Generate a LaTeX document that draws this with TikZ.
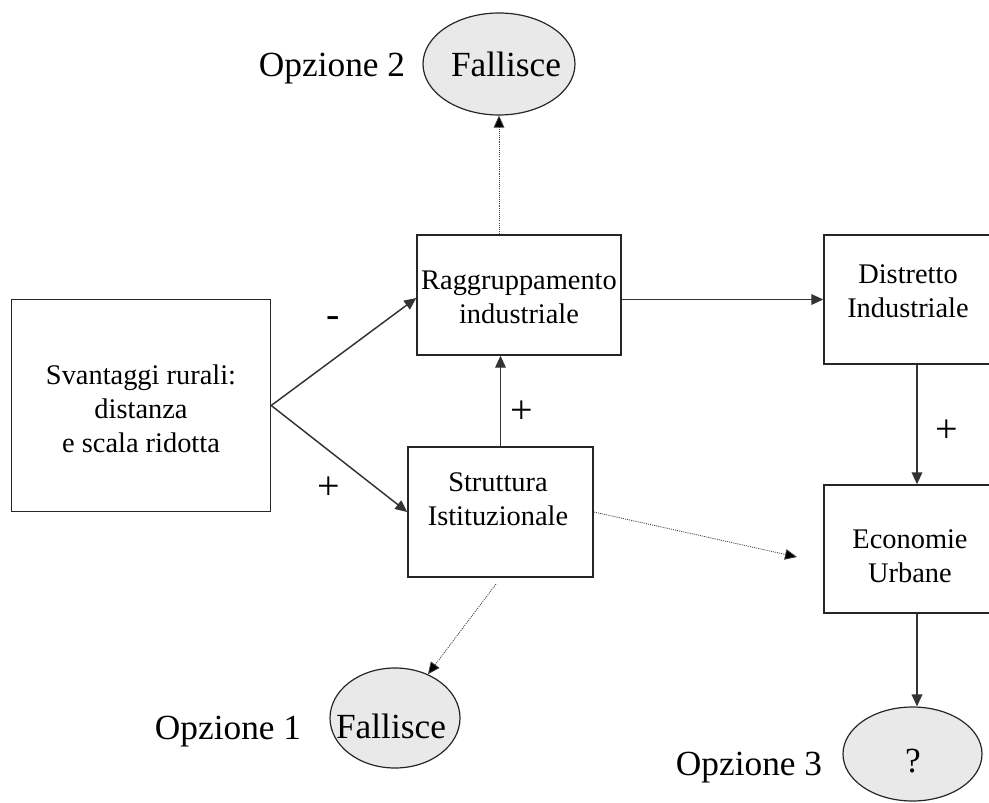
\documentclass[tikz,border=0pt]{standalone}
\usepackage{fontspec}
\setmainfont{Liberation Serif}
\usetikzlibrary{arrows.meta,calc,shapes.geometric}

\tikzset{
  boxnode/.style={draw=black!85, line width=1.1pt, rectangle, inner sep=0pt},
  boxtext/.style={align=center, font=\fontsize{21.3pt}{25.5pt}\selectfont, inner sep=0pt},
  oval/.style={draw=black!85, line width=0.9pt, ellipse, fill=gray!17, inner sep=0pt},
  bigtext/.style={font=\fontsize{26.5pt}{30pt}\selectfont, inner sep=0pt, anchor=base},
  signtext/.style={font=\fontsize{30pt}{34pt}\selectfont, inner sep=0pt},
  link/.style={draw=black!80, line width=1.1pt, -{Triangle[length=9pt,width=8pt]}},
  weaklink/.style={draw=black!75, line width=0.6pt, dash pattern=on 0.8pt off 0.8pt,
                   -{Triangle[length=9pt,width=8pt,fill=black]}},
}

\begin{document}
\begin{tikzpicture}[x=0.75pt, y=-0.75pt]
\useasboundingbox (0,0) rectangle (989,803);

% boxes
\node[boxnode, minimum width=259*0.75pt, minimum height=212*0.75pt] (sv)   at (141,405.5) {};
\node[boxnode, minimum width=204*0.75pt, minimum height=120*0.75pt] (rag)  at (519,295) {};
\node[boxnode, minimum width=166*0.75pt, minimum height=129*0.75pt] (dist) at (907,299.5) {};
\node[boxnode, minimum width=166*0.75pt, minimum height=128*0.75pt] (eco)  at (907,549) {};
\node[boxnode, minimum width=185*0.75pt, minimum height=130*0.75pt] (str)  at (500.5,512) {};

% box labels
\node[boxtext] (svT)   at (141,409) {Svantaggi rurali:\\distanza\\e scala ridotta};
\node[boxtext] (ragT)  at (519,297) {Raggruppamento\\industriale};
\node[boxtext] (distT) at (908,291) {Distretto\\Industriale};
\node[boxtext] (ecoT)  at (910,556) {Economie\\Urbane};
\node[boxtext] (strT)  at (498,499) {Struttura\\Istituzionale};

% outcome ellipses
\node[oval, minimum width=152*0.75pt, minimum height=102*0.75pt] (e2) at (499,64) {};
\node[oval, minimum width=130*0.75pt, minimum height=100*0.75pt] (e1) at (395,718) {};
\node[oval, minimum width=139*0.75pt, minimum height=94*0.75pt]  (e3) at (912.5,754) {};

\node[bigtext] (e2T) at (506,76) {Fallisce};
\node[bigtext] (e1T) at (391,738) {Fallisce};
\node[bigtext] (e3T) at (913,772) {?};

\node[bigtext] (op2) at (332,76) {Opzione 2};
\node[bigtext] (op1) at (228,739) {Opzione 1};
\node[bigtext] (op3) at (749,775) {Opzione 3};

% connectors
\coordinate (distOut) at ($(dist.south)+(10,0)$);
\coordinate (ecoOut) at ($(eco.south)+(10,0)$);
\draw[link] (sv.east) -- ($(rag.west)+(0,3)$);
\draw[link] (sv.east) -- (str.west);
\draw[link] (rag.east |- dist.west) -- (dist.west);
\draw[link] (str.north) -- (str.north |- rag.south);
\draw[link] (distOut) -- (distOut |- eco.north);
\draw[link] (ecoOut) -- (ecoOut |- e3.north);

\coordinate (strOut) at (496,584);
\coordinate (ecoIn) at (797,557);
\draw[weaklink] (e2.south |- rag.north) -- (e2.south);
\draw[weaklink] (str.east) -- (ecoIn);
\draw[weaklink] (strOut) -- (e1);

% signs
\node[signtext] (mA) at (333,322) {-};
\node[signtext] (pA) at (329,488) {+};
\node[signtext] (pB) at (522,412) {+};
\node[signtext] (pC) at (947,431) {+};
\end{tikzpicture}
\end{document}
